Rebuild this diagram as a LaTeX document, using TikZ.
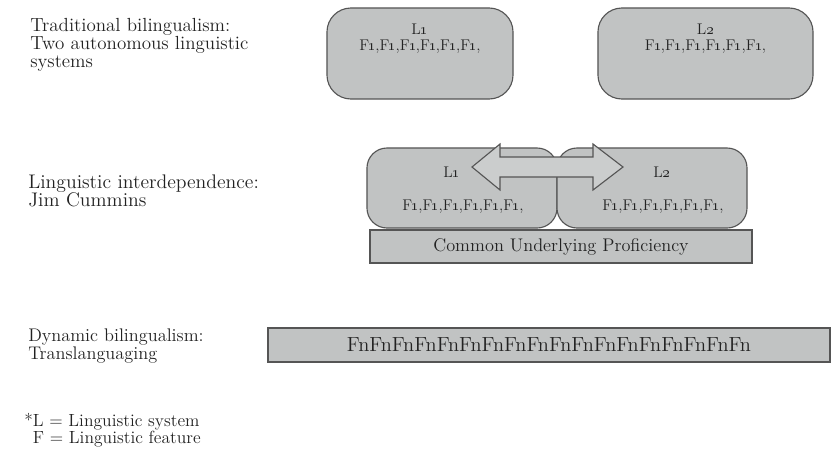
\documentclass[tikz,border=0pt]{standalone}
\usepackage{tikz}
\usepackage{xcolor}
\usetikzlibrary{backgrounds,calc,positioning}

\definecolor{boxgray}{HTML}{C1C3C3}
\definecolor{arrowgray}{HTML}{CBCDCD}
\definecolor{edgegray}{HTML}{555555}
\definecolor{inkgray}{HTML}{222222}

\newcommand{\Lone}{L\oldstylenums{1}}
\newcommand{\Ltwo}{L\oldstylenums{2}}
\newcommand{\Fone}{F\kern-0.04em\oldstylenums{1}\kern-0.06em,}
\newcommand{\Frow}{\Fone\Fone\Fone\Fone\Fone\Fone}

\begin{document}
\begin{tikzpicture}[x=0.025cm, y=-0.025cm,
		every node/.style = {text=inkgray, font=\fontsize{13}{12.8}\selectfont},
		sysbox/.style = {draw=edgegray, fill=boxgray, line width=0.8pt, rounded corners=0.6cm, inner sep=0pt},
		flatbox/.style = {draw=edgegray, fill=boxgray, line width=0.9pt, inner sep=0pt},
		boxtext/.style = {inner sep=0pt, font=\fontsize{11}{11}\selectfont},
		sidetext/.style = {anchor=west, align=left, inner sep=0pt}]
		\useasboundingbox (0,0) rectangle (835,448);

		\node[sidetext, font=\fontsize{13.5}{12.9}\selectfont] (trad) at (30,45) {Traditional bilingualism:\\Two autonomous linguistic\\systems};
		\node[sysbox, minimum width=4.65cm, minimum height=2.275cm] (topone) at (420,53.5) {};
		\node[sysbox, minimum width=5.375cm, minimum height=2.275cm] (toptwo) at (705.5,53.5) {};
		\node[boxtext] (toponeL) at (420,29) {\Lone};
		\node[boxtext] (toponeF) at (420,47) {\Frow};
		\node[boxtext] (toptwoL) at (705.5,29) {\Ltwo};
		\node[boxtext] (toptwoF) at (705.5,47) {\Frow};

		\node[sidetext, font=\fontsize{14}{13}\selectfont] (inter) at (28,191) {Linguistic interdependence:\\Jim Cummins};
		\node[flatbox, minimum width=9.55cm, minimum height=0.825cm] (cup) at (561,246.5) {Common Underlying Proficiency};
		\node[sysbox, rounded corners=0.5cm, minimum width=4.75cm, minimum height=2cm] (midone) at (462,188) {};
		\node[sysbox, rounded corners=0.5cm, minimum width=4.75cm, minimum height=2cm] (midtwo) at (652,188) {};
		\node[boxtext] (midoneL) at (452,172) {\Lone};
		\node[boxtext] (midoneF) at (463,207) {\Frow};
		\node[boxtext] (midtwoL) at (662,172) {\Ltwo};
		\node[boxtext] (midtwoF) at (663,207) {\Frow};
		\draw[draw=edgegray, fill=arrowgray, line width=0.8pt]
			(472,167) -- (500,144) -- (500,157) -- (593,157) -- (593,144) -- (623,167)
			-- (593,190) -- (593,177) -- (500,177) -- (500,190) -- cycle;

		\node[sidetext] (dyn) at (28,346) {Dynamic bilingualism:\\Translanguaging};
		\node[flatbox, minimum width=14.05cm, minimum height=0.85cm, font=\fontsize{14.5}{14.5}\selectfont] (feat) at (549,345) {FnFnFnFnFnFnFnFnFnFnFnFnFnFnFnFnFnFn};

		\node[sidetext, font=\fontsize{12.5}{12}\selectfont] (key) at (24,430) {*L = Linguistic system\\\hphantom{*}F = Linguistic feature};
	\end{tikzpicture}
\end{document}
